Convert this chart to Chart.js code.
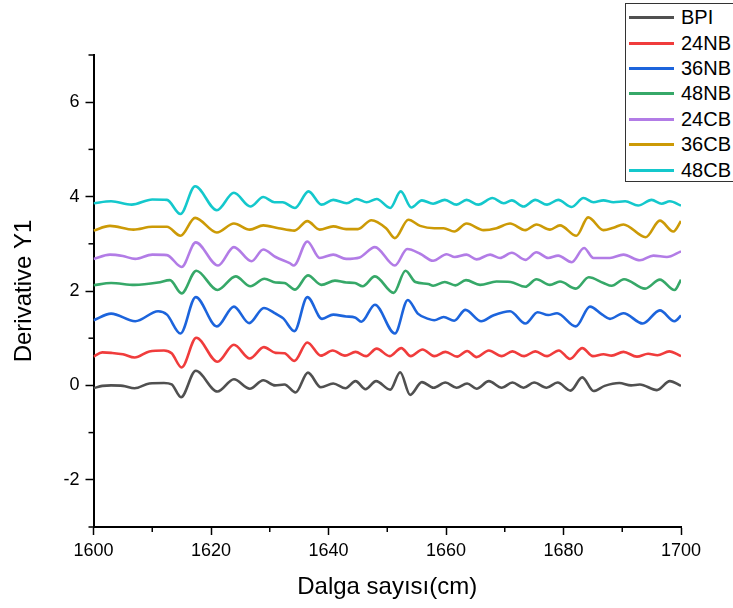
<!DOCTYPE html>
<html>
<head>
<meta charset="utf-8">
<script src="https://cdn.jsdelivr.net/npm/chart.js@4.4.0/dist/chart.umd.min.js"></script>
<style>
  html, body { margin: 0; padding: 0; background: #fff; }
  #wrap { position: relative; width: 733px; height: 608px; overflow: hidden; background: #fff; }
  #legend {
    position: absolute; left: 625px; top: 3px; width: 130px; height: 179px;
    border: 1px solid #333; background: #fff; box-sizing: border-box;
    font-family: "Liberation Sans", Arial, sans-serif; font-size: 20px; color: #000;
    padding-top: 1px;
  }
  #legend .row { height: 25.4px; display: flex; align-items: center; }
  #legend .swatch { width: 45px; height: 3px; margin-left: 3px; margin-right: 7px; }
</style>
</head>
<body>
<div id="wrap">
  <canvas id="chart" width="733" height="608"></canvas>
  <div id="legend"></div>
</div>
<script>
// wavenumber / derivative pairs for each sample
const seriesBPI = [[1600,-0.06],[1601.5,-0.01],[1603,0.00],[1605,-0.01],[1607,-0.06],[1609.5,0.04],[1612,0.05],[1613.3,0.02],[1614.9,-0.25],[1617.4,0.31],[1621.1,-0.13],[1623.9,0.13],[1626.6,-0.07],[1628.9,0.11],[1630.9,0.00],[1632.5,0.02],[1634.4,-0.15],[1636.5,0.27],[1638.7,-0.04],[1640.8,0.04],[1642.9,-0.06],[1644.6,0.09],[1646.3,-0.08],[1648.1,0.09],[1650.5,-0.09],[1652.2,0.28],[1653.9,-0.20],[1655.9,0.07],[1657.9,-0.05],[1659.9,0.06],[1661.8,-0.05],[1663.6,0.04],[1665.2,-0.07],[1667.3,0.09],[1669.5,-0.05],[1671.3,0.06],[1673.2,-0.05],[1675.0,0.06],[1677.1,-0.05],[1679.0,0.06],[1681.2,-0.11],[1683.2,0.17],[1685.1,-0.12],[1687,-0.01],[1689.5,0.05],[1691.5,0.00],[1693.0,0.02],[1695.9,-0.10],[1698.1,0.09],[1700,-0.01]];
const series24NB = [[1600,0.61],[1601.5,0.70],[1603,0.69],[1605,0.66],[1607,0.59],[1609.5,0.72],[1612,0.74],[1613.3,0.68],[1615,0.38],[1617.5,1.01],[1621.1,0.50],[1623.9,0.86],[1626.6,0.57],[1629,0.81],[1631,0.69],[1632.5,0.68],[1634.2,0.52],[1636.4,0.91],[1638.7,0.63],[1640.7,0.74],[1642.8,0.63],[1644.6,0.71],[1646.4,0.62],[1648.2,0.78],[1650.4,0.62],[1652.4,0.79],[1654.0,0.62],[1656.0,0.76],[1658.0,0.62],[1659.9,0.71],[1661.9,0.61],[1663.6,0.73],[1665.2,0.60],[1667.3,0.74],[1669.5,0.62],[1671.3,0.72],[1673.3,0.62],[1675.2,0.72],[1677.2,0.62],[1679.2,0.74],[1681.1,0.56],[1683.2,0.79],[1685.0,0.62],[1686.8,0.66],[1688.2,0.63],[1690.2,0.71],[1692.5,0.61],[1694.4,0.67],[1696.0,0.64],[1698.0,0.72],[1700,0.62]];
const series36NB = [[1600,1.38],[1603,1.52],[1607.1,1.36],[1611,1.57],[1612.5,1.50],[1614.8,1.10],[1617.4,1.87],[1621,1.25],[1623.9,1.67],[1626.5,1.32],[1629,1.64],[1631,1.52],[1632.3,1.42],[1634.2,1.15],[1636.4,1.87],[1638.9,1.41],[1640.8,1.50],[1643,1.46],[1644.5,1.44],[1645.6,1.35],[1647.9,1.71],[1651.3,1.10],[1653.5,1.81],[1655.2,1.52],[1657,1.41],[1658,1.38],[1659.6,1.45],[1661.4,1.37],[1663.3,1.60],[1666,1.36],[1668,1.48],[1670.9,1.57],[1673.5,1.31],[1675.6,1.55],[1677.4,1.49],[1678.9,1.53],[1682.1,1.25],[1684.5,1.67],[1686.6,1.50],[1687.9,1.41],[1690.2,1.53],[1693.5,1.31],[1696.4,1.59],[1698.9,1.36],[1700,1.48]];
const series48NB = [[1600,2.12],[1603,2.17],[1607,2.13],[1611,2.18],[1613,2.23],[1615,1.95],[1617.5,2.43],[1621.1,2.02],[1624.2,2.31],[1626.7,2.10],[1629.1,2.26],[1631,2.18],[1632.5,2.17],[1634.3,2.03],[1636.5,2.33],[1638.8,2.13],[1641.1,2.22],[1643,2.18],[1644.5,2.17],[1645.8,2.10],[1647.9,2.31],[1651.1,1.96],[1653.1,2.43],[1654.8,2.19],[1657,2.15],[1657.8,2.11],[1659.8,2.19],[1661.6,2.12],[1663.4,2.23],[1665.8,2.13],[1668.6,2.20],[1671,2.19],[1673.5,2.09],[1675.4,2.25],[1677.7,2.13],[1679.4,2.20],[1682.1,2.05],[1684.3,2.29],[1686.8,2.17],[1688.2,2.11],[1690.3,2.25],[1693.9,2.05],[1696.4,2.24],[1698.9,2.02],[1700,2.24]];
const series24CB = [[1600,2.68],[1602.8,2.77],[1605,2.74],[1607.1,2.68],[1610,2.77],[1612.5,2.76],[1615,2.51],[1617.4,3.03],[1621.2,2.54],[1623.9,2.93],[1626.9,2.63],[1628.9,2.88],[1631,2.72],[1633.4,2.59],[1634.1,2.54],[1636.4,3.05],[1638.5,2.70],[1640.8,2.77],[1643,2.68],[1645.3,2.71],[1647.9,2.93],[1651.3,2.54],[1653.4,2.89],[1655.6,2.79],[1657.8,2.64],[1660.1,2.78],[1661.5,2.72],[1663.5,2.77],[1665.2,2.67],[1667.5,2.77],[1669.2,2.70],[1671.2,2.81],[1673.5,2.66],[1675.4,2.82],[1677.4,2.70],[1679.1,2.75],[1681.4,2.61],[1683.5,2.91],[1685.1,2.70],[1687.9,2.70],[1690.2,2.77],[1693.0,2.65],[1695.3,2.75],[1697.6,2.72],[1700,2.84]];
const series36CB = [[1600,3.28],[1602.8,3.38],[1606.8,3.30],[1610,3.36],[1612.5,3.36],[1614.8,3.17],[1617.3,3.55],[1621,3.24],[1623.9,3.43],[1626.6,3.30],[1628.9,3.39],[1631.5,3.33],[1634.2,3.28],[1636.4,3.48],[1638.5,3.30],[1640.8,3.37],[1643,3.31],[1645,3.31],[1647.3,3.50],[1649.8,3.33],[1651.3,3.12],[1653.6,3.51],[1655.6,3.38],[1658,3.33],[1659.6,3.33],[1661.4,3.26],[1663.5,3.43],[1666.4,3.29],[1668.6,3.33],[1670.9,3.43],[1673.5,3.29],[1675.4,3.41],[1677.7,3.30],[1679.4,3.39],[1682.2,3.17],[1684.2,3.56],[1686.8,3.29],[1688.5,3.34],[1690.2,3.41],[1694.0,3.14],[1696.4,3.49],[1698.7,3.26],[1700,3.48]];
const series48CB = [[1600,3.86],[1603,3.90],[1606.5,3.83],[1610,3.94],[1612.5,3.93],[1614.8,3.63],[1617.3,4.22],[1621,3.71],[1623.9,4.08],[1626.7,3.79],[1628.9,3.99],[1630.8,3.88],[1632.2,3.88],[1634.3,3.76],[1636.6,4.11],[1638.8,3.83],[1640.8,3.93],[1643.1,3.86],[1644.8,3.95],[1646.5,3.88],[1648.2,3.95],[1650.5,3.76],[1652.3,4.11],[1654.1,3.77],[1655.9,3.92],[1657.8,3.85],[1659.8,3.93],[1661.8,3.83],[1663.5,3.93],[1665.5,3.83],[1667.9,3.97],[1669.8,3.86],[1671.2,3.92],[1673.2,3.79],[1675.2,3.93],[1677.2,3.83],[1679.1,3.93],[1681.4,3.78],[1683.4,3.97],[1685.1,3.88],[1686.8,3.92],[1688.5,3.88],[1690.5,3.90],[1692.7,3.81],[1695,3.93],[1696.7,3.85],[1698.1,3.90],[1700,3.81]];

const seriesNames = ["BPI", "24NB", "36NB", "48NB", "24CB", "36CB", "48CB"];
const seriesData = [seriesBPI, series24NB, series36NB, series48NB, series24CB, series36CB, series48CB];
const seriesColors = ["#505050", "#f03c3c", "#1c64dc", "#36a868", "#b27ce6", "#cc9a06", "#14c8cc"];

const xMajor = [1600, 1620, 1640, 1660, 1680, 1700];
const xMinor = [1610, 1630, 1650, 1670, 1690];
const yMajor = [-2, 0, 2, 4, 6];
const yMinor = [-3, -1, 1, 3, 5, 7];

const FONT = "'Liberation Sans', Arial, sans-serif";

// short minor ticks, placed with the scales themselves
const minorTicks = {
  id: "minorTicks",
  afterDraw(chart){
    const { ctx, chartArea, scales } = chart;
    ctx.save();
    ctx.strokeStyle = "#000";
    ctx.lineWidth = 1.5;
    xMinor.forEach(v => {
      const px = scales.x.getPixelForValue(v);
      ctx.beginPath();
      ctx.moveTo(px, chartArea.bottom);
      ctx.lineTo(px, chartArea.bottom + 5);
      ctx.stroke();
    });
    yMinor.forEach(v => {
      const py = scales.y.getPixelForValue(v);
      ctx.beginPath();
      ctx.moveTo(chartArea.left, py);
      ctx.lineTo(chartArea.left - 5, py);
      ctx.stroke();
    });
    ctx.restore();
  }
};

const datasets = seriesNames.map((name, i) => ({
  label: name,
  data: seriesData[i].map(p => ({ x: p[0], y: p[1] })),
  borderColor: seriesColors[i],
  backgroundColor: seriesColors[i],
  borderWidth: 2.6,
  pointRadius: 0,
  cubicInterpolationMode: "monotone",
  fill: false
}));

new Chart(document.getElementById("chart"), {
  type: "line",
  data: { datasets },
  plugins: [minorTicks],
  options: {
    responsive: false,
    animation: false,
    devicePixelRatio: 1,
    layout: { padding: { top: 55, right: 52, left: 0, bottom: 0 } },
    plugins: { legend: { display: false }, tooltip: { enabled: false } },
    scales: {
      x: {
        type: "linear",
        min: 1600,
        max: 1700,
        afterFit: s => { s.height = 81; },
        afterBuildTicks: s => { s.ticks = xMajor.map(v => ({ value: v })); },
        border: { display: true, color: "#000", width: 2 },
        grid: { display: true, drawOnChartArea: false, drawTicks: true, tickLength: 8, tickWidth: 1.5, tickColor: "#000" },
        ticks: { color: "#000", font: { family: FONT, size: 18 }, padding: 5, maxRotation: 0, callback: v => String(v) },
        title: { display: true, text: "Dalga sayısı(cm)", color: "#000", font: { family: FONT, size: 24 }, padding: { top: 0, bottom: 6 } }
      },
      y: {
        type: "linear",
        min: -3,
        max: 7,
        afterFit: s => { s.width = 93.5; },
        afterBuildTicks: s => { s.ticks = yMajor.map(v => ({ value: v })); },
        border: { display: true, color: "#000", width: 2 },
        grid: { display: true, drawOnChartArea: false, drawTicks: true, tickLength: 8, tickWidth: 1.5, tickColor: "#000" },
        ticks: { color: "#000", font: { family: FONT, size: 18 }, padding: 6, callback: v => String(v) },
        title: { display: true, text: "Derivative Y1", color: "#000", font: { family: FONT, size: 24 }, padding: { top: 10, bottom: 0 } }
      }
    }
  }
});

// legend box in the upper right corner
const legend = document.getElementById("legend");
seriesNames.forEach((name, i) => {
  const row = document.createElement("div");
  row.className = "row";
  row.innerHTML = `<span class="swatch" style="background:${seriesColors[i]}"></span><span>${name}</span>`;
  legend.appendChild(row);
});
</script>
</body>
</html>
